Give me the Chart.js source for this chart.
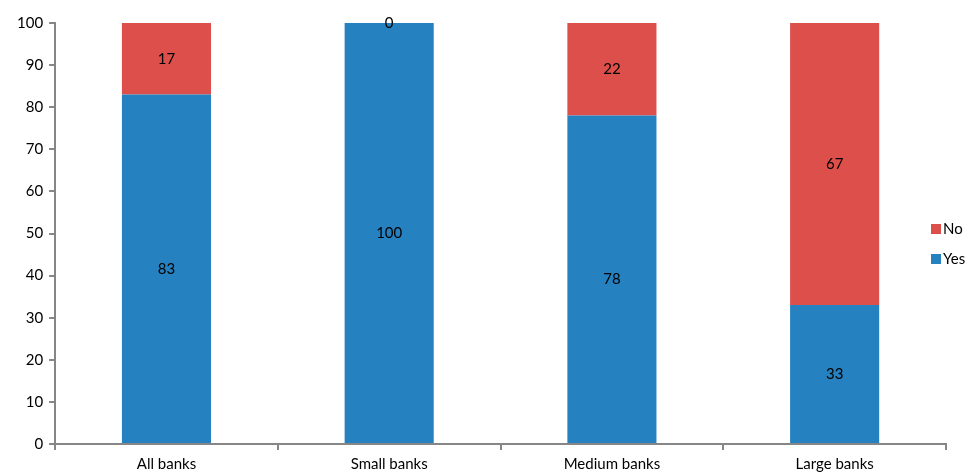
<!DOCTYPE html>
<html>
<head>
<meta charset="utf-8">
<script src="https://cdn.jsdelivr.net/npm/chart.js@4"></script>
<style>
  html, body { margin: 0; padding: 0; background: #fff; }
  #wrap { width: 969px; height: 475px; }
</style>
</head>
<body>
<div id="wrap"><canvas id="chart"></canvas></div>
<script>
const categories = ["All banks", "Small banks", "Medium banks", "Large banks"];
const yesValues = [83, 100, 78, 33];
const noValues = [17, 0, 22, 67];

const FONT = "Lato, 'Open Sans', sans-serif";

// value labels in the middle of each segment
const barLabels = {
  id: "barLabels",
  afterDatasetsDraw(chart) {
    const ctx = chart.ctx;
    ctx.save();
    ctx.font = "15px " + FONT;
    ctx.fillStyle = "#000";
    ctx.textAlign = "center";
    ctx.textBaseline = "middle";
    chart.data.datasets.forEach((ds, i) => {
      chart.getDatasetMeta(i).data.forEach((bar, j) => {
        const mid = (bar.y + bar.base) / 2;
        ctx.fillText(String(ds.data[j]), bar.x, mid);
      });
    });
    ctx.restore();
  }
};

// legend drawn on the right, over the end of the axis
const sideLegend = {
  id: "sideLegend",
  afterDraw(chart) {
    const ctx = chart.ctx;
    ctx.save();
    ctx.font = "15px " + FONT;
    ctx.textBaseline = "middle";
    ctx.textAlign = "left";
    const items = chart.data.datasets.slice().reverse();
    items.forEach((ds, k) => {
      const y = 229 + k * 30;
      ctx.fillStyle = ds.backgroundColor;
      ctx.fillRect(931, y - 5, 10, 10);
      ctx.fillStyle = "#000";
      ctx.fillText(ds.label, 943, y);
    });
    ctx.restore();
  }
};

new Chart(document.getElementById("chart"), {
  type: "bar",
  data: {
    labels: categories,
    datasets: [
      { label: "Yes", data: yesValues, backgroundColor: "#2681c0", barPercentage: 0.8, categoryPercentage: 0.5 },
      { label: "No", data: noValues, backgroundColor: "#dd4f4b", barPercentage: 0.8, categoryPercentage: 0.5 }
    ]
  },
  options: {
    responsive: true,
    maintainAspectRatio: false,
    animation: false,
    layout: { padding: { top: 23, right: 23, left: 11, bottom: -3 } },
    plugins: { legend: { display: false }, tooltip: { enabled: false } },
    scales: {
      x: {
        stacked: true,
        grid: { display: true, drawOnChartArea: false, offset: true, tickLength: 6, color: "#868686", lineWidth: 2 },
        border: { color: "#868686", width: 2 },
        ticks: { color: "#000", font: { size: 15, family: FONT }, padding: 5 }
      },
      y: {
        stacked: true,
        min: 0,
        max: 100,
        grid: { display: true, drawOnChartArea: false, tickLength: 6, color: "#868686", lineWidth: 2 },
        border: { color: "#868686", width: 2 },
        ticks: { stepSize: 10, color: "#000", font: { size: 15, family: FONT }, padding: 6 }
      }
    }
  },
  plugins: [barLabels, sideLegend]
});
</script>
</body>
</html>
